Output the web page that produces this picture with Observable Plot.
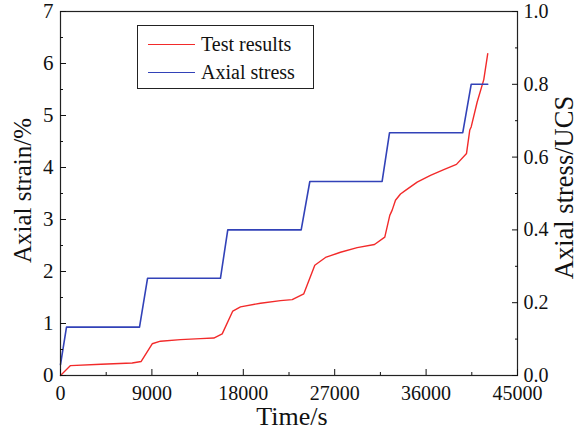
<!DOCTYPE html>
<html>
<head>
<meta charset="utf-8">
<script src="https://cdn.jsdelivr.net/npm/d3@7"></script>
<script src="https://cdn.jsdelivr.net/npm/@observablehq/plot@0.6"></script>
<style>
  html, body { margin: 0; padding: 0; background: #fff; }
  #wrap { position: relative; width: 583px; height: 439px; font-family: "Liberation Serif", "Times New Roman", serif; }
  #legend { position: absolute; left: 137px; top: 25px; width: 177px; height: 64px; border: 1px solid #222; background: #fff; box-sizing: border-box; }
  .row { position: absolute; left: 0; height: 20px; display: flex; align-items: center; font-size: 20px; color: #111; white-space: nowrap; }
  .sw { display: inline-block; width: 47px; height: 0; border-top: 1.5px solid; margin-left: 10px; margin-right: 6px; }
</style>
</head>
<body>
<div id="wrap"></div>
<script>
// ---- data ----
const timeTest = [0, 985, 4000, 7060, 7946, 9029, 9846, 11816, 13785, 15095, 15922, 16965, 17724, 19693, 21662, 22814, 23957, 25040, 26093, 27570, 29214, 30918, 31932, 32424, 32660, 32985, 33478, 33970, 35120, 36430, 37740, 38990, 39980, 40300, 40440, 41030, 41680, 42070];
const strainTest = [0, 0.19, 0.215, 0.24, 0.27, 0.61, 0.66, 0.69, 0.71, 0.72, 0.80, 1.24, 1.32, 1.39, 1.44, 1.46, 1.57, 2.12, 2.27, 2.37, 2.46, 2.52, 2.66, 3.08, 3.18, 3.37, 3.49, 3.56, 3.72, 3.85, 3.96, 4.06, 4.27, 4.72, 4.78, 5.26, 5.69, 6.19];
const timeStress = [0, 590, 7780, 8570, 15750, 16470, 23700, 24550, 31670, 32400, 39610, 40440, 42070];
const stressUCS = [0.03, 0.133, 0.133, 0.267, 0.267, 0.4, 0.4, 0.533, 0.533, 0.667, 0.667, 0.8, 0.8];
const xTicks = [0, 9000, 18000, 27000, 36000, 45000];
const xMinor = [4500, 13500, 22500, 31500, 40500];
const strainTicks = [0, 1, 2, 3, 4, 5, 6, 7];
const strainMinor = [0.5, 1.5, 2.5, 3.5, 4.5, 5.5, 6.5];
const stressTicks = [0, 0.2, 0.4, 0.6, 0.8, 1.0];
const stressMinor = [0.1, 0.3, 0.5, 0.7, 0.9];
const strainMax = 7, stressMax = 1.0;
const labels = { x: "Time/s", yLeft: "Axial strain/%", yRight: "Axial stress/UCS" };
const seriesNames = ["Test results", "Axial stress"];
const colors = ["#f22a2a", "#3242b8"];

const k = strainMax / stressMax;
const testData = timeTest.map((t, i) => ({ t, v: strainTest[i] }));
const stressData = timeStress.map((t, i) => ({ t, v: stressUCS[i] * k }));

const font = "Liberation Serif, Times New Roman, serif";

const chart = Plot.plot({
  width: 583,
  height: 439,
  marginLeft: 60,
  marginRight: 66,
  marginTop: 11,
  marginBottom: 64,
  style: { fontFamily: font, fontSize: "21px", color: "#111", background: "#fff" },
  x: { domain: [0, 45000] },
  y: { domain: [0, strainMax] },
  marks: [
    Plot.line(testData, { x: "t", y: "v", stroke: colors[0], strokeWidth: 1.4 }),
    Plot.line(stressData, { x: "t", y: "v", stroke: colors[1], strokeWidth: 1.6 }),
    Plot.frame({ stroke: "#222", strokeWidth: 1.2 }),
    Plot.axisX({ ticks: xTicks, tickSize: -6, tickPadding: 16, tickFormat: d => String(d), label: null, fontSize: 20 }),
    Plot.axisX({ ticks: xMinor, tickSize: -3, fill: "none", label: null }),
    Plot.axisY({ anchor: "left", ticks: strainTicks, tickSize: -6, tickPadding: 13, tickFormat: d => String(d), label: null, fontSize: 21 }),
    Plot.axisY({ anchor: "left", ticks: strainMinor, tickSize: -3, fill: "none", label: null }),
    Plot.axisY({ anchor: "right", ticks: stressTicks.map(v => v * k), tickSize: -6, tickPadding: 12, tickFormat: d => (d / k).toFixed(1), label: null, fontSize: 20 }),
    Plot.axisY({ anchor: "right", ticks: stressMinor.map(v => v * k), tickSize: -3, fill: "none", label: null }),
    Plot.text([labels.yLeft], { frameAnchor: "left", rotate: -90, textAnchor: "middle", lineAnchor: "middle", dx: -38, dy: -3, fontSize: 25, fill: "#111" }),
    Plot.text([labels.yRight], { frameAnchor: "right", rotate: -90, textAnchor: "middle", lineAnchor: "middle", dx: 47, dy: -6, fontSize: 26.5, fill: "#111" }),
    Plot.text([labels.x], { frameAnchor: "bottom", textAnchor: "middle", lineAnchor: "middle", dy: 41, dx: 3, fontSize: 26, fill: "#111" })
  ]
});

const wrap = document.getElementById("wrap");
wrap.appendChild(chart);

const legend = document.createElement("div");
legend.id = "legend";
seriesNames.forEach((name, i) => {
  const row = document.createElement("div");
  row.className = "row";
  row.style.top = (i === 0 ? 8 : 36) + "px";
  const sw = document.createElement("span");
  sw.className = "sw";
  sw.style.borderTopColor = colors[i];
  const tx = document.createElement("span");
  tx.textContent = name;
  row.appendChild(sw);
  row.appendChild(tx);
  legend.appendChild(row);
});
wrap.appendChild(legend);
</script>
</body>
</html>
